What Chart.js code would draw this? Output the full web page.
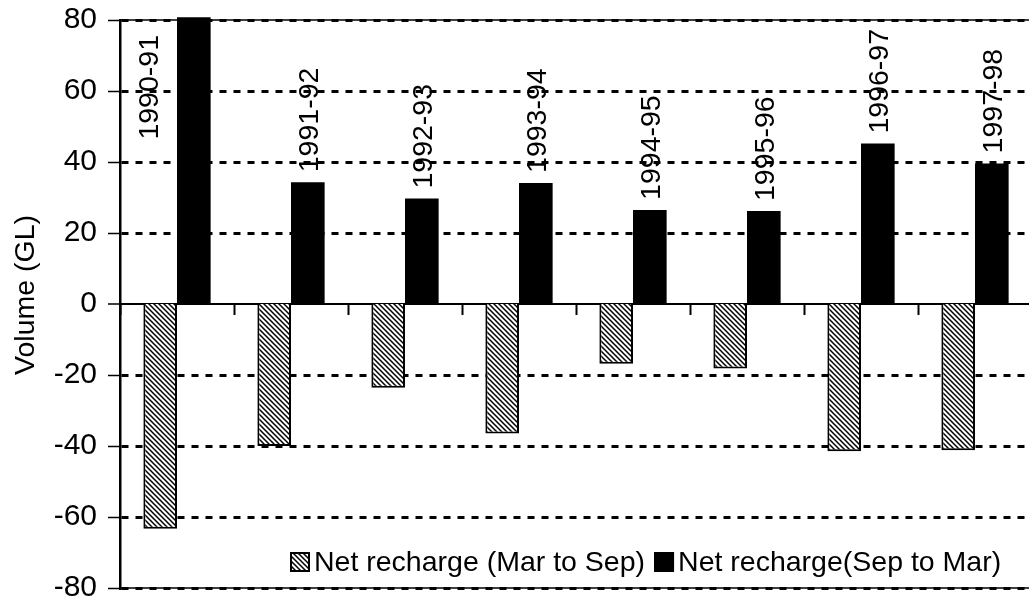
<!DOCTYPE html>
<html>
<head>
<meta charset="utf-8">
<title>Net recharge by season</title>
<script src="https://cdn.jsdelivr.net/npm/chart.js@4.4.1/dist/chart.umd.min.js"></script>
<style>
  html, body { margin: 0; padding: 0; background: #fff; overflow: hidden; }
  #wrap { width: 1040px; height: 604px; }
</style>
</head>
<body>
<div id="wrap"><canvas id="chart" width="1040" height="604"></canvas></div>
<script>
// Seasons (categories)
const seasons = ['1990-91', '1991-92', '1992-93', '1993-94', '1994-95', '1995-96', '1996-97', '1997-98'];
// Net recharge, GL
const rechargeMarSep = [-63.3, -40.0, -23.6, -36.5, -16.8, -18.2, -41.5, -41.2];
const rechargeSepMar = [80.8, 34.3, 29.7, 34.1, 26.5, 26.2, 45.2, 39.6];
const seriesNames = ['Net recharge (Mar to Sep)', 'Net recharge(Sep to Mar)'];
const yTickValues = [-80, -60, -40, -20, 0, 20, 40, 60, 80];
const yTitle = 'Volume (GL)';

const FONT = '"Liberation Sans", Arial, Helvetica, sans-serif';
const FONT_SIZE = 28.5;

// Back-slash hatch fill
function makeHatch() {
  const s = 5;
  const tile = document.createElement('canvas');
  tile.width = s; tile.height = s;
  const t = tile.getContext('2d');
  t.fillStyle = '#fff';
  t.fillRect(0, 0, s, s);
  t.strokeStyle = '#000';
  t.lineWidth = 1.5;
  t.beginPath();
  t.moveTo(-1, -1); t.lineTo(s + 1, s + 1);
  t.moveTo(-1, s - 1); t.lineTo(1, s + 1);
  t.moveTo(s - 1, -1); t.lineTo(s + 1, 1);
  t.stroke();
  return t.createPattern(tile, 'repeat');
}
const hatch = makeHatch();

// Thin solid frame along the top and bottom of the plot area
const plotFrame = {
  id: 'plotFrame',
  beforeDatasetsDraw(chart) {
    const { ctx, chartArea: a } = chart;
    ctx.save();
    ctx.strokeStyle = '#000';
    ctx.lineWidth = 1.5;
    ctx.beginPath();
    ctx.moveTo(a.left, a.top); ctx.lineTo(a.right, a.top);
    ctx.moveTo(a.left, a.bottom); ctx.lineTo(a.right, a.bottom);
    ctx.stroke();
    ctx.restore();
  }
};

// Vertical season names above the Sep-Mar bars
const seasonLabels = {
  id: 'seasonLabels',
  afterDatasetsDraw(chart) {
    const { ctx, chartArea } = chart;
    const meta = chart.getDatasetMeta(1);
    ctx.save();
    ctx.font = FONT_SIZE + 'px ' + FONT;
    ctx.fillStyle = '#000';
    ctx.textAlign = 'left';
    ctx.textBaseline = 'alphabetic';
    meta.data.forEach((bar, i) => {
      const text = chart.data.labels[i];
      const w = ctx.measureText(text).width;
      let cx = bar.x;
      let startY = bar.y - 10;
      if (startY - w < chartArea.top) {
        // no room above: set beside the bar, hanging from the top
        cx = bar.x - bar.width / 2 - 29;
        startY = chartArea.top + 15 + w;
      }
      ctx.save();
      ctx.translate(cx + FONT_SIZE * 0.358, startY);
      ctx.rotate(-Math.PI / 2);
      ctx.fillText(text, 0, 0);
      ctx.restore();
    });
    ctx.restore();
  }
};

// Y axis title
const yAxisTitle = {
  id: 'yAxisTitle',
  afterDraw(chart) {
    const { ctx } = chart;
    ctx.save();
    ctx.font = FONT_SIZE + 'px ' + FONT;
    ctx.fillStyle = '#000';
    ctx.textAlign = 'center';
    ctx.textBaseline = 'alphabetic';
    ctx.translate(34, 295);
    ctx.rotate(-Math.PI / 2);
    ctx.fillText(yTitle, 0, 0);
    ctx.restore();
  }
};

// Legend inside the lower part of the plot
const innerLegend = {
  id: 'innerLegend',
  afterDraw(chart) {
    const { ctx } = chart;
    ctx.save();
    ctx.font = FONT_SIZE + 'px ' + FONT;
    ctx.textBaseline = 'alphabetic';
    const size = 20, top = 552, baseline = 571;
    let x = 290;
    chart.data.datasets.forEach((ds) => {
      ctx.fillStyle = ds.backgroundColor;
      ctx.fillRect(x, top, size, size);
      ctx.strokeStyle = '#000';
      ctx.lineWidth = 2;
      ctx.strokeRect(x + 1, top + 1, size - 2, size - 2);
      x += size + 4;
      ctx.fillStyle = '#000';
      ctx.fillText(ds.label, x, baseline);
      x += ctx.measureText(ds.label).width + 9;
    });
    ctx.restore();
  }
};

Chart.defaults.font.family = FONT;
Chart.defaults.font.size = FONT_SIZE;
Chart.defaults.color = '#000';

new Chart(document.getElementById('chart'), {
  type: 'bar',
  data: {
    labels: seasons,
    datasets: [
      {
        label: seriesNames[0],
        data: rechargeMarSep,
        backgroundColor: hatch,
        borderColor: '#000',
        borderWidth: 2,
        clip: false
      },
      {
        label: seriesNames[1],
        data: rechargeSepMar,
        backgroundColor: '#000',
        borderWidth: 0,
        clip: false
      }
    ]
  },
  options: {
    responsive: false,
    animation: false,
    devicePixelRatio: 1,
    categoryPercentage: 0.59,
    barPercentage: 1.0,
    layout: { padding: { left: 0, right: 8, top: 20, bottom: 16 } },
    plugins: {
      legend: { display: false },
      tooltip: { enabled: false }
    },
    scales: {
      x: {
        type: 'category',
        position: { y: 0 },
        z: 1,
        offset: true,
        afterFit(scale) {
          scale.height = 0;
          scale.paddingLeft = 0; scale.paddingRight = 0;
        },
        ticks: { display: false },
        grid: {
          offset: true,
          drawOnChartArea: false,
          drawTicks: true,
          tickLength: 10,
          tickWidth: 2,
          tickColor: '#000'
        },
        border: { display: true, color: '#000', width: 2 }
      },
      y: {
        min: -80,
        max: 80,
        afterBuildTicks(scale) {
          scale.ticks = yTickValues.map(v => ({ value: v }));
        },
        afterFit(scale) {
          scale.width = 120;
          scale.paddingTop = 0; scale.paddingBottom = 0;
        },
        ticks: {
          padding: 11,
          font: { size: 30, lineHeight: 1 },
          color: '#000'
        },
        grid: {
          color: '#000',
          lineWidth: (c) => (c.tick && c.tick.value === 0 ? 0 : 3),
          drawTicks: true,
          tickLength: 12,
          tickWidth: 1.5,
          tickColor: '#000'
        },
        border: { display: true, color: '#000', width: 2.5, dash: [7, 7] }
      }
    }
  },
  plugins: [plotFrame, seasonLabels, yAxisTitle, innerLegend]
});
</script>
</body>
</html>
